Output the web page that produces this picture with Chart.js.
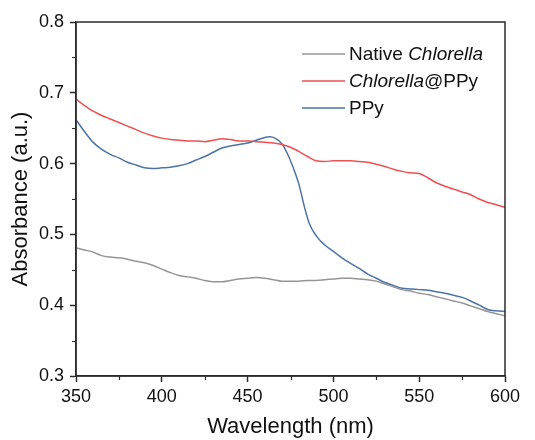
<!DOCTYPE html>
<html>
<head>
<meta charset="utf-8">
<script src="https://cdn.jsdelivr.net/npm/chart.js@4/dist/chart.umd.min.js"></script>
<style>
  html, body { margin: 0; padding: 0; background: #fff; }
  #c { display: block; }
</style>
</head>
<body>
<canvas id="c" width="535" height="440"></canvas>
<script>
// ---- Data ----
const nativeWl = [350,355,360,365,370,375,380,385,390,395,400,405,410,415,420,425,430,435,440,445,450,455,460,465,470,475,480,485,490,495,500,505,510,515,520,525,530,535,540,545,550,555,560,565,570,575,580,585,590,595,600];
const nativeAbs = [0.481,0.478,0.475,0.470,0.468,0.467,0.465,0.462,0.460,0.456,0.451,0.446,0.442,0.440,0.438,0.435,0.433,0.433,0.435,0.437,0.438,0.439,0.438,0.436,0.434,0.434,0.434,0.435,0.435,0.436,0.437,0.438,0.438,0.437,0.436,0.434,0.430,0.426,0.422,0.420,0.417,0.415,0.412,0.409,0.406,0.403,0.399,0.395,0.391,0.388,0.385];

const chlPpyWl = [350,355,360,365,370,375,380,385,390,395,400,405,410,415,420,425,430,435,440,445,450,455,460,465,470,475,480,485,490,495,500,505,510,515,520,525,530,535,540,545,550,555,560,565,570,575,580,585,590,595,600];
const chlPpyAbs = [0.691,0.682,0.674,0.668,0.663,0.658,0.653,0.648,0.643,0.639,0.636,0.634,0.633,0.632,0.632,0.631,0.633,0.635,0.634,0.632,0.632,0.631,0.630,0.629,0.627,0.623,0.617,0.610,0.604,0.603,0.604,0.604,0.604,0.603,0.602,0.599,0.596,0.592,0.589,0.587,0.586,0.580,0.573,0.568,0.564,0.560,0.556,0.550,0.545,0.542,0.538];

const ppyWl = [350,355,360,365,370,375,380,385,390,395,400,405,410,415,420,425,430,435,440,445,450,455,460,463,466,470,473,476,480,483,486,490,495,500,505,510,515,520,525,530,535,540,545,550,555,560,565,570,575,580,585,590,595,600];
const ppyAbs = [0.662,0.645,0.630,0.620,0.613,0.608,0.602,0.598,0.594,0.593,0.594,0.595,0.597,0.600,0.605,0.610,0.616,0.622,0.625,0.627,0.629,0.633,0.637,0.638,0.636,0.628,0.615,0.598,0.570,0.540,0.515,0.498,0.485,0.476,0.467,0.459,0.452,0.444,0.438,0.432,0.428,0.424,0.423,0.422,0.421,0.419,0.417,0.414,0.411,0.406,0.400,0.394,0.392,0.391];

const xTickValues = [350,400,450,500,550,600];
const xMinorTicks = [375,425,475,525,575];
const yMinorTicks = [0.35,0.45,0.55,0.65,0.75];

const seriesNames = [
  [{t:'Native ', i:false}, {t:'Chlorella', i:true}],
  [{t:'Chlorella', i:true}, {t:'@PPy', i:false}],
  [{t:'PPy', i:false}]
];
const seriesColors = ['#959595', '#ee5052', '#4d72a6'];

function toPts(xs, ys) { return xs.map((x, k) => ({x: x, y: ys[k]})); }

const FONT = 'Arial, "Liberation Sans", Helvetica, sans-serif';
const AXIS_COLOR = '#2b2b2b';

const framePlugin = {
  id: 'frameAndMinor',
  afterDraw(chart) {
    const ctx = chart.ctx;
    const a = chart.chartArea;
    const xs = chart.scales.x, ys = chart.scales.y;
    ctx.save();
    ctx.strokeStyle = AXIS_COLOR;
    ctx.lineWidth = 1.5;
    ctx.strokeRect(a.left, a.top, a.right - a.left, a.bottom - a.top);
    // minor ticks
    ctx.lineWidth = 1.2;
    ctx.beginPath();
    xMinorTicks.forEach(v => {
      const px = Math.round(xs.getPixelForValue(v)) + 0.5;
      ctx.moveTo(px, a.bottom);
      ctx.lineTo(px, a.bottom + 4);
    });
    yMinorTicks.forEach(v => {
      const py = Math.round(ys.getPixelForValue(v)) + 0.5;
      ctx.moveTo(a.left, py);
      ctx.lineTo(a.left - 4, py);
    });
    ctx.stroke();

    // legend
    const lx0 = a.left + 226, lx1 = a.left + 269, tx = a.left + 273;
    const rowY = [a.top + 32, a.top + 59, a.top + 86];
    ctx.textBaseline = 'middle';
    ctx.textAlign = 'left';
    seriesNames.forEach((parts, k) => {
      ctx.strokeStyle = seriesColors[k];
      ctx.lineWidth = 1.5;
      ctx.beginPath();
      ctx.moveTo(lx0, rowY[k]);
      ctx.lineTo(lx1, rowY[k]);
      ctx.stroke();
      let x = tx;
      ctx.fillStyle = '#111';
      parts.forEach(p => {
        ctx.font = (p.i ? 'italic ' : '') + '19px ' + FONT;
        ctx.fillText(p.t, x, rowY[k] + 1);
        x += ctx.measureText(p.t).width;
      });
    });
    ctx.restore();
  }
};

new Chart(document.getElementById('c'), {
  type: 'line',
  data: {
    datasets: [
      { label: 'Native Chlorella', data: toPts(nativeWl, nativeAbs), borderColor: seriesColors[0] },
      { label: 'Chlorella@PPy', data: toPts(chlPpyWl, chlPpyAbs), borderColor: seriesColors[1] },
      { label: 'PPy', data: toPts(ppyWl, ppyAbs), borderColor: seriesColors[2] }
    ]
  },
  options: {
    responsive: false,
    animation: false,
    devicePixelRatio: 1,
    layout: { padding: { left: 0, top: 22, right: 30, bottom: 0 } },
    elements: {
      point: { radius: 0 },
      line: { borderWidth: 1.5, cubicInterpolationMode: 'monotone', fill: false }
    },
    plugins: { legend: { display: false }, tooltip: { enabled: false } },
    scales: {
      x: {
        type: 'linear', min: 350, max: 600,
        afterFit: s => { s.height = 64; },
        afterBuildTicks: s => { s.ticks = xTickValues.map(v => ({value: v})); },
        grid: { drawOnChartArea: false, drawTicks: true, tickLength: 6, tickColor: AXIS_COLOR, tickWidth: 1.5 },
        border: { display: true, color: AXIS_COLOR, width: 1.5 },
        ticks: { color: '#111', font: { family: FONT, size: 18 }, padding: 4, maxRotation: 0 },
        title: { display: true, text: 'Wavelength (nm)', color: '#111', font: { family: FONT, size: 22 }, padding: { top: 0, bottom: 0 } }
      },
      y: {
        min: 0.3, max: 0.8,
        afterFit: s => { s.width = 76; },
        ticks: { stepSize: 0.1, color: '#111', font: { family: FONT, size: 18 }, padding: 6, callback: v => v.toFixed(1) },
        grid: { drawOnChartArea: false, drawTicks: true, tickLength: 6, tickColor: AXIS_COLOR, tickWidth: 1.5 },
        border: { display: true, color: AXIS_COLOR, width: 1.5 },
        title: { display: true, text: 'Absorbance (a.u.)', color: '#111', font: { family: FONT, size: 22 }, padding: { top: 8, bottom: 0 } }
      }
    }
  },
  plugins: [framePlugin]
});
</script>
</body>
</html>
